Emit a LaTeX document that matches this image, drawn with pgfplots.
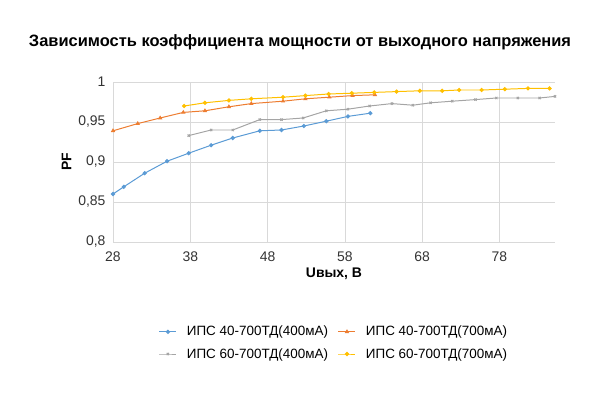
\documentclass[border=0pt]{standalone}
\usepackage{pgfplots}
\pgfplotsset{compat=1.18}
\usepackage{fontspec}
\setmainfont{Liberation Sans}
\definecolor{cb}{RGB}{91,155,213}
\definecolor{co}{RGB}{237,125,49}
\definecolor{cg}{RGB}{165,165,165}
\definecolor{cy}{RGB}{255,192,0}
\begin{document}
\begin{tikzpicture}
\path[use as bounding box] (0,0) rectangle (600bp,400bp);
\begin{axis}[at={(113bp,158bp)}, anchor=south west, scale only axis,
 width=442bp, height=160bp,
 xmin=28, xmax=85.2, ymin=0.8, ymax=1,
 xtick={28,38,...,78}, ytick={0.8,0.85,...,1.0},
 axis line style={draw=none}, tick style={draw=none},
 grid=major, grid style={draw=gray!30},
 /pgf/number format/.cd, use comma, fixed, assume math mode=true, /pgfplots/.cd,
 ticklabel style={font=\fontsize{14}{16}\selectfont, text=black!80},
 xticklabel style={yshift=-6bp}, yticklabel style={xshift=-4bp, /pgf/number format/precision=2},
 xlabel={\textbf{Uвых, В}}, ylabel={\textbf{PF}},
 label style={font=\fontsize{14}{16}\selectfont},
 legend style={at={(0.5,-0.5)}, anchor=north, draw=none, font=\fontsize{13.5}{15}\selectfont, column sep=8pt, row sep=7pt},
 legend columns=2, legend cell align=left,
 every axis plot/.append style={line width=1pt, mark size=1.6pt}]
\addplot[cb, mark=*] coordinates {(28.0,0.860)(29.4,0.869)(32.1,0.886)(35.0,0.901)(37.8,0.911)(40.7,0.921)(43.5,0.930)(47.0,0.939)(49.8,0.940)(52.7,0.945)(55.6,0.951)(58.4,0.957)(61.3,0.961)};
\addplot[co, mark=triangle*] coordinates {(28.0,0.939)(31.2,0.948)(34.1,0.955)(37.1,0.962)(39.9,0.964)(43.0,0.969)(45.9,0.973)(50.0,0.976)(52.9,0.979)(56.0,0.981)(59.0,0.983)(61.9,0.984)};
\addplot[cg, mark=x] coordinates {(37.8,0.933)(40.7,0.940)(43.5,0.940)(47.0,0.953)(49.8,0.953)(52.6,0.955)(55.6,0.964)(58.4,0.966)(61.2,0.970)(64.1,0.973)(66.8,0.971)(69.1,0.974)(71.9,0.976)(74.9,0.978)(77.6,0.980)(80.4,0.980)(83.2,0.980)(85.2,0.982)};
\addplot[cy, mark=*] coordinates {(37.2,0.970)(39.9,0.974)(43.0,0.977)(45.9,0.979)(50.0,0.981)(52.9,0.983)(55.9,0.985)(58.9,0.986)(61.8,0.987)(64.7,0.988)(67.7,0.989)(70.6,0.989)(72.8,0.990)(75.7,0.990)(78.7,0.991)(81.7,0.992)(84.5,0.992)};
\legend{ИПС 40-700ТД(400мА),ИПС 40-700ТД(700мА),ИПС 60-700ТД(400мА),ИПС 60-700ТД(700мА)}
\end{axis}
\node[font=\bfseries\fontsize{16.5}{18}\selectfont] at (300bp,358bp) {Зависимость коэффициента мощности от выходного напряжения};
\end{tikzpicture}
\end{document}
